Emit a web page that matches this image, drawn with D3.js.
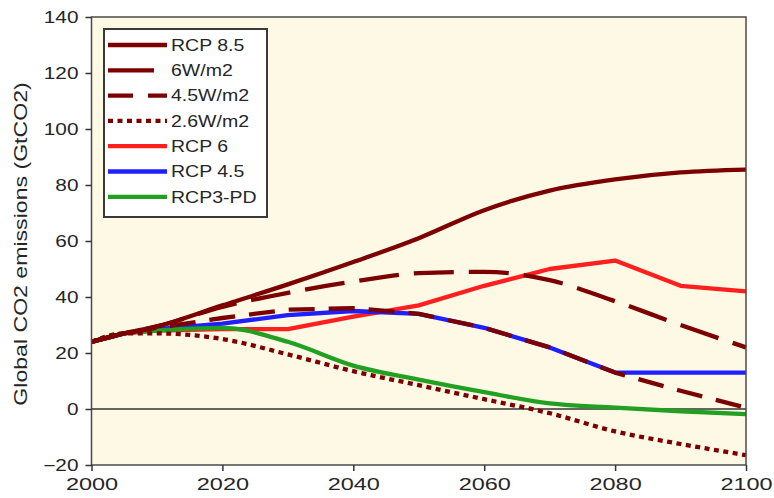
<!DOCTYPE html>
<html>
<head>
<meta charset="utf-8">
<script src="https://cdn.jsdelivr.net/npm/d3@7"></script>
<style>
  html, body { margin: 0; padding: 0; background: #ffffff; }
  svg { display: block; }
  text { font-family: "Liberation Sans", Arial, Helvetica, sans-serif; fill: #262626; }
</style>
</head>
<body>
<svg id="chart" width="774" height="498"></svg>
<script>
// Emission pathways, GtCO2 per year
const years = [2000, 2005, 2010, 2020, 2030, 2040, 2050, 2060, 2070, 2080, 2090, 2100];
const rcp85 = [24, 27, 29.5, 37, 44.5, 52.5, 61, 71, 78, 82, 84.5, 85.5];
const w6    = [24, 27, 29.5, 36.5, 41.5, 45.5, 48.5, 49, 46, 38.5, 30, 22];
const w45   = [24, 27, 29, 32.5, 35.5, 36, 34, 29, 22, 13, 6.5, 0.5];
const w26   = [24, 27, 27, 25, 19.5, 13.5, 8.5, 3.5, -1.5, -8, -12.5, -16.5];
const rcp6  = [24, 27, 28, 28.5, 28.5, 33, 37, 44, 50, 53, 44, 42];
const rcp45 = [24, 27, 28.5, 30.5, 33.5, 35, 34, 29, 22, 13, 13, 13];
const rcp3  = [24, 27, 28, 29, 24, 15.5, 10.5, 6, 2, 0.5, -0.8, -1.8];

const seriesNames = ["RCP 8.5", "6W/m2", "4.5W/m2", "2.6W/m2", "RCP 6", "RCP 4.5", "RCP3-PD"];
const xTicks = [2000, 2020, 2040, 2060, 2080, 2100];
const yTicks = [-20, 0, 20, 40, 60, 80, 100, 120, 140];
const yTitle = "Global CO2 emissions (GtCO2)";

const dark = "#7d0000";
const series = [
  { name: seriesNames[4], values: rcp6,  color: "#ff1f1f", dash: null,    legendDash: null,    curve: d3.curveLinear },
  { name: seriesNames[5], values: rcp45, color: "#1f1fff", dash: null,    legendDash: null,    curve: d3.curveLinear },
  { name: seriesNames[6], values: rcp3,  color: "#22a022", dash: null,    legendDash: null,    curve: d3.curveMonotoneX },
  { name: seriesNames[3], values: w26,   color: dark,      dash: "5,4.5", legendDash: "5,4.5", curve: d3.curveMonotoneX },
  { name: seriesNames[2], values: w45,   color: dark,      dash: "26,14", legendDash: "25,15", curve: d3.curveLinear },
  { name: seriesNames[1], values: w6,    color: dark,      dash: "40,15", legendDash: "46,20", curve: d3.curveMonotoneX },
  { name: seriesNames[0], values: rcp85, color: dark,      dash: null,    legendDash: null,    curve: d3.curveMonotoneX }
];
const legendOrder = seriesNames.map(n => series.find(s => s.name === n));

const svg = d3.select("#chart");
const plotL = 91.5, plotR = 746, plotT = 17, plotB = 465;

const x = d3.scaleLinear().domain([2000, 2100]).range([plotL, plotR]);
const y = d3.scaleLinear().domain([-20, 140]).range([plotB, plotT]);

// plot background
svg.append("rect")
  .attr("x", plotL).attr("y", plotT)
  .attr("width", plotR - plotL).attr("height", plotB - plotT)
  .attr("fill", "#fdf9e4");

// zero reference line
svg.append("line")
  .attr("x1", plotL).attr("x2", plotR)
  .attr("y1", y(0)).attr("y2", y(0))
  .attr("stroke", "#333").attr("stroke-width", 1.5);

// emission curves
const line = curve => d3.line()
  .x((d, i) => x(years[i]))
  .y(d => y(d))
  .curve(curve);

svg.append("g").selectAll("path")
  .data(series)
  .join("path")
  .attr("d", s => line(s.curve)(s.values))
  .attr("fill", "none")
  .attr("stroke", s => s.color)
  .attr("stroke-width", 4.3)
  .attr("stroke-dasharray", s => s.dash)
  .attr("stroke-linejoin", "round");

// frame
svg.append("rect")
  .attr("x", plotL).attr("y", plotT)
  .attr("width", plotR - plotL).attr("height", plotB - plotT)
  .attr("fill", "none").attr("stroke", "#4a4a4a").attr("stroke-width", 1.5);

// axes
const yAxis = svg.append("g")
  .attr("transform", `translate(${plotL},0)`)
  .call(d3.axisLeft(y).tickValues(yTicks).tickSize(6).tickFormat(d3.format("d")));
yAxis.select(".domain").remove();
yAxis.selectAll(".tick line").attr("stroke", "#333").attr("stroke-width", 1.5);
yAxis.selectAll(".tick text")
  .attr("x", -10).attr("dy", "0.36em")
  .attr("transform", "scale(1.3,1)")
  .style("font-size", "16px")
  .style("font-family", "'Liberation Sans', Arial, sans-serif")
  .attr("fill", "#262626");

const xAxis = svg.append("g")
  .attr("transform", `translate(0,${plotB})`)
  .call(d3.axisBottom(x).tickValues(xTicks).tickSize(6).tickFormat(d3.format("d")));
xAxis.select(".domain").remove();
xAxis.selectAll(".tick line").attr("stroke", "#333").attr("stroke-width", 1.5);
xAxis.selectAll(".tick text")
  .attr("y", 0).attr("dy", "1.5em")
  .attr("transform", "scale(1.38,1)")
  .style("font-size", "17px")
  .style("font-family", "'Liberation Sans', Arial, sans-serif")
  .attr("fill", "#262626");

// y title
svg.append("text")
  .attr("transform", "translate(27,244) rotate(-90) scale(1.32,1)")
  .attr("text-anchor", "middle")
  .style("font-size", "17.5px")
  .text(yTitle);

// legend
const lg = svg.append("g");
lg.append("rect")
  .attr("x", 104).attr("y", 29)
  .attr("width", 163).attr("height", 188)
  .attr("fill", "#ffffff")
  .attr("stroke", "#3a3a3a").attr("stroke-width", 2);

const rowY = i => 45 + i * 25.3;
const rows = lg.selectAll("g.row")
  .data(legendOrder)
  .join("g")
  .attr("class", "row")
  .attr("transform", (d, i) => `translate(0,${rowY(i)})`);
rows.append("line")
  .attr("x1", 108).attr("x2", 167)
  .attr("y1", 0).attr("y2", 0)
  .attr("stroke", d => d.color)
  .attr("stroke-width", 4.3)
  .attr("stroke-dasharray", d => d.legendDash);
rows.append("text")
  .attr("transform", "translate(171,0) scale(1.22,1)")
  .attr("dy", "0.36em")
  .style("font-size", "16px")
  .text(d => d.name);
</script>
</body>
</html>
